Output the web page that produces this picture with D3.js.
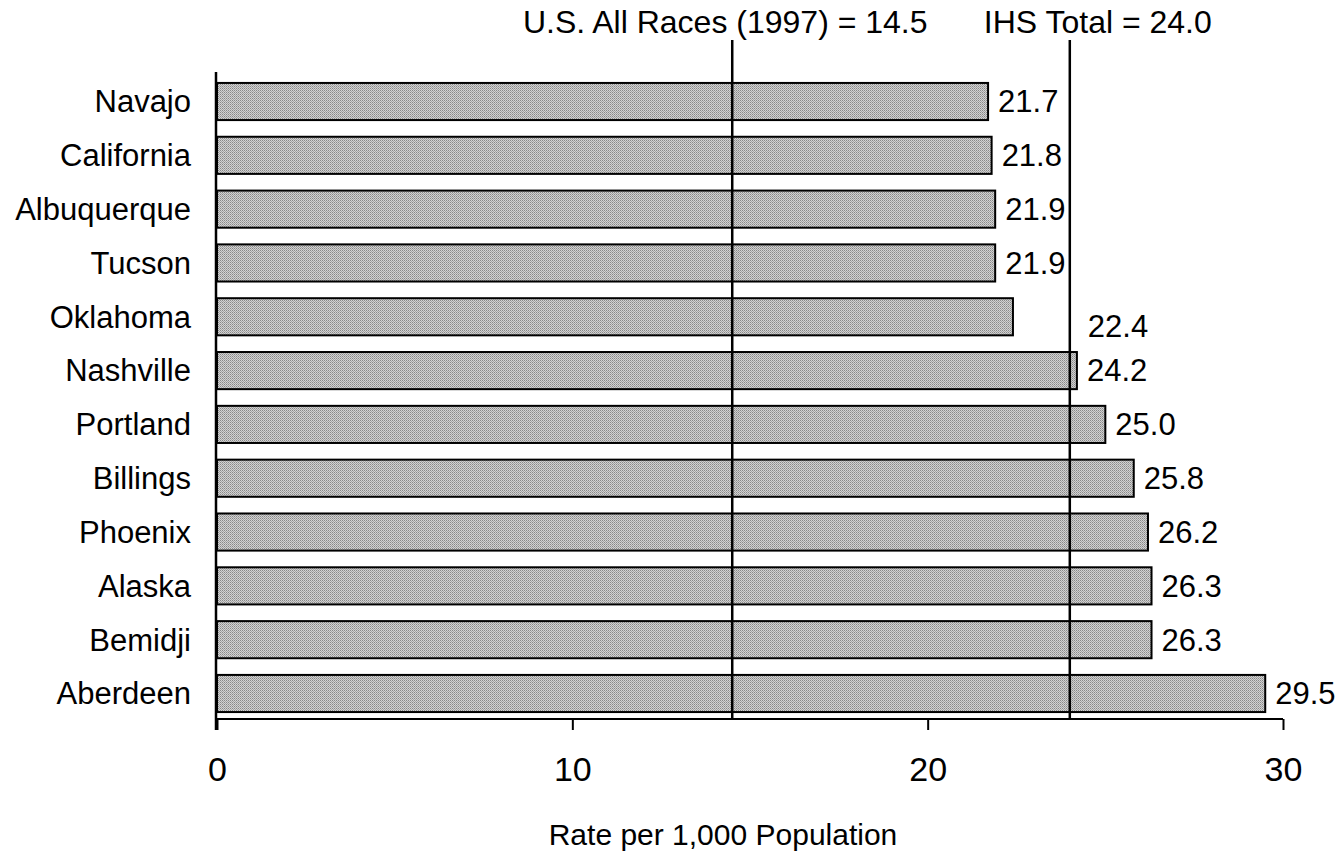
<!DOCTYPE html>
<html>
<head>
<meta charset="utf-8">
<script src="https://cdn.jsdelivr.net/npm/d3@7"></script>
<style>
  html, body { margin: 0; padding: 0; background: #fff; }
  text { font-family: "Liberation Sans", Arial, sans-serif; fill: #000; }
</style>
</head>
<body>
<svg id="chart" width="1344" height="854"></svg>
<script>
const categories = ["Navajo","California","Albuquerque","Tucson","Oklahoma","Nashville","Portland","Billings","Phoenix","Alaska","Bemidji","Aberdeen"];
const values = [21.7, 21.8, 21.9, 21.9, 22.4, 24.2, 25.0, 25.8, 26.2, 26.3, 26.3, 29.5];
const valueLabels = ["21.7","21.8","21.9","21.9","22.4","24.2","25.0","25.8","26.2","26.3","26.3","29.5"];
const refValues = [14.5, 24.0];
const refLabels = ["U.S. All Races (1997) = 14.5", "IHS Total = 24.0"];
const xTicks = [0, 10, 20, 30];
const xTitle = "Rate per 1,000 Population";

const svg = d3.select("#chart");
const FONT = 31;

// pattern for stippled bars
const defs = svg.append("defs");
const pat = defs.append("pattern").attr("id","stipple").attr("patternUnits","userSpaceOnUse")
  .attr("width",2).attr("height",2);
pat.append("rect").attr("width",2).attr("height",2).attr("fill","#d2d2d2");
pat.append("rect").attr("x",0).attr("y",0).attr("width",1).attr("height",1).attr("fill","#888888");
pat.append("rect").attr("x",1).attr("y",1).attr("width",1).attr("height",1).attr("fill","#a4a4a4");

const x = d3.scaleLinear().domain([0, 30]).range([217, 1283]);
const y = d3.scaleBand().domain(categories).range([74.6, 720.4]).paddingInner(0.31).paddingOuter(0.155);
const axisY = 719;

// bars
svg.append("g").selectAll("rect").data(categories).join("rect")
  .attr("x", x(0))
  .attr("y", d => y(d))
  .attr("width", (d,i) => x(values[i]) - x(0))
  .attr("height", y.bandwidth())
  .attr("fill", "url(#stipple)")
  .attr("stroke", "#000")
  .attr("stroke-width", 2);

// reference lines
svg.append("g").selectAll("line").data(refValues).join("line")
  .attr("x1", d => x(d)).attr("x2", d => x(d))
  .attr("y1", 40).attr("y2", axisY)
  .attr("stroke", "#000").attr("stroke-width", 2.5);

svg.append("g").selectAll("text").data(refValues).join("text")
  .attr("x", d => x(d))
  .attr("y", 33)
  .attr("text-anchor", "middle")
  .attr("font-size", 32)
  .attr("dx", (d,i) => i === 0 ? -7 : 28)
  .text((d,i) => refLabels[i]);

// x axis
const xAxis = d3.axisBottom(x).tickValues(xTicks).tickSize(11).tickPadding(27).tickFormat(d3.format("d"));
const gx = svg.append("g").attr("transform", `translate(0,${axisY})`).call(xAxis);
gx.select(".domain").attr("stroke","#000").attr("stroke-width",2).attr("d", `M${x(0)},0H${x(30)}`);
gx.selectAll(".tick line").attr("stroke","#000").attr("stroke-width",2);
gx.selectAll(".tick text").attr("font-size", 34).attr("font-family","Liberation Sans, Arial, sans-serif").attr("fill","#000");

// y axis line
svg.append("line").attr("x1", x(0)-1).attr("x2", x(0)-1).attr("y1", 72).attr("y2", axisY + 11)
  .attr("stroke","#000").attr("stroke-width",2.5);

// category labels
svg.append("g").selectAll("text").data(categories).join("text")
  .attr("x", 191)
  .attr("y", d => y(d) + y.bandwidth()/2)
  .attr("dy", "0.35em")
  .attr("text-anchor", "end")
  .attr("font-size", FONT)
  .text(d => d);

// value labels (nudged past IHS line when they would collide)
const ihsX = x(refValues[1]);
const LW = 62;
const collides = i => { const lx = x(values[i]) + 10; return lx < ihsX && lx + LW > ihsX; };
svg.append("g").selectAll("text").data(categories).join("text")
  .attr("x", (d,i) => collides(i) ? ihsX + 18 : x(values[i]) + 10)
  .attr("y", (d,i) => y(d) + y.bandwidth()/2 + (collides(i) ? 9 : 0))
  .attr("dy", "0.35em")
  .attr("font-size", FONT)
  .text((d,i) => valueLabels[i]);

// x title
svg.append("text").attr("x", 723).attr("y", 845).attr("text-anchor","middle")
  .attr("font-size", 30).text(xTitle);
</script>
</body>
</html>
